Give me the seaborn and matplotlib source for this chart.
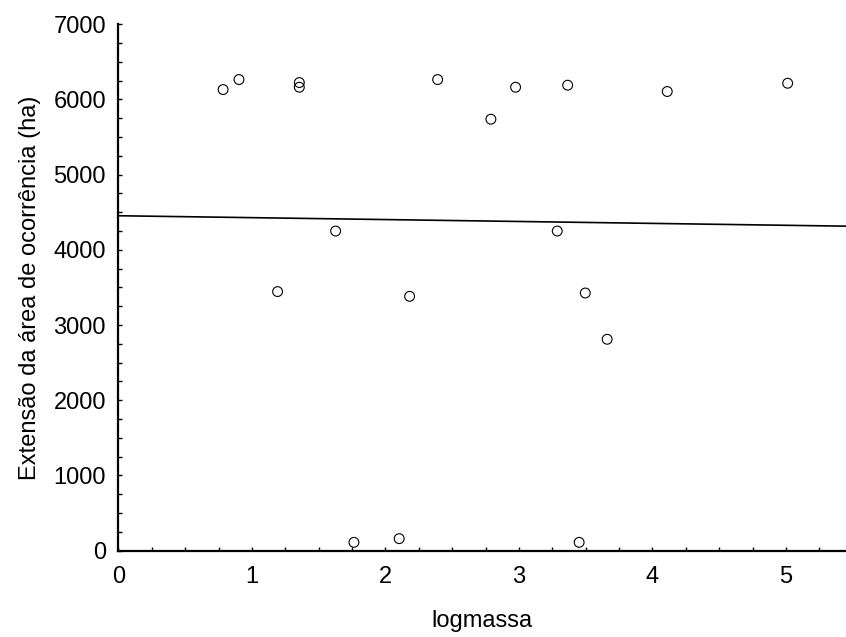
import matplotlib
matplotlib.use("Agg")
import matplotlib.pyplot as plt
from matplotlib.ticker import MultipleLocator
import numpy as np
import pandas as pd
import seaborn as sns

# log body mass vs. extent of occurrence area
logmassa = [0.784, 0.903, 1.355, 1.355, 2.391, 2.790, 2.975, 3.365, 4.111, 5.013,
            1.192, 1.627, 2.181, 3.287, 3.497, 3.661, 1.764, 2.103, 3.451]
extensao = [6131, 6264, 6224, 6162, 6264, 5737, 6162, 6189, 6105, 6215,
            3445, 4250, 3382, 4250, 3426, 2811, 111, 160, 111]

x_ticks = [0, 1, 2, 3, 4, 5]
y_ticks = [0, 1000, 2000, 3000, 4000, 5000, 6000, 7000]

df = pd.DataFrame({"logmassa": logmassa, "extensao": extensao})

sns.set_theme(style="ticks")
plt.rcParams["font.family"] = ["Liberation Sans", "DejaVu Sans"]

fig = plt.figure(figsize=(8.46, 6.37), dpi=100)
ax = fig.add_axes([0.140, 0.1355, 0.860, 0.8265])

ax.set_xlim(0, 5.45)
ax.set_ylim(0, 7000)

# least-squares line across the full x range
sns.regplot(data=df, x="logmassa", y="extensao", ax=ax, scatter=False,
            ci=None, truncate=False, color="black",
            line_kws={"linewidth": 1.2})

sns.scatterplot(data=df, x="logmassa", y="extensao", ax=ax, s=50,
                marker="o", facecolor="none", edgecolor="black",
                linewidth=0.8, zorder=3)

ax.set_xlim(0, 5.45)
ax.set_ylim(0, 7000)
ax.set_xticks(x_ticks)
ax.set_yticks(y_ticks)
ax.xaxis.set_minor_locator(MultipleLocator(0.25))
ax.yaxis.set_minor_locator(MultipleLocator(250))

sns.despine(ax=ax)
for side in ("left", "bottom"):
    ax.spines[side].set_linewidth(1.6)
    ax.spines[side].set_color("black")

ax.tick_params(which="both", direction="in", length=3, width=1,
               color="black", labelsize=17, labelcolor="black")
ax.tick_params(axis="x", which="major", pad=11)
ax.tick_params(axis="y", which="major", pad=9)

ax.set_xlabel("logmassa", fontsize=17, labelpad=16, color="black")
ax.set_ylabel("Extensão da área de ocorrência (ha)", fontsize=17,
              labelpad=9, color="black")

fig.savefig("out.png", dpi=100, facecolor="white")
